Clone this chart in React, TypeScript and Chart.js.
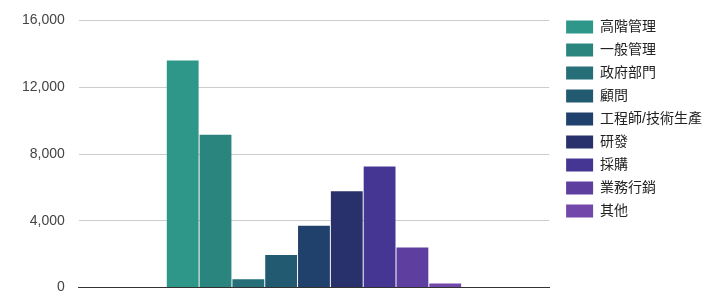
import React, { useEffect, useRef } from "react";
import { Chart, registerables } from "chart.js";

Chart.register(...registerables);

const categories: string[] = ["高階管理", "一般管理", "政府部門", "顧問", "工程師/技術生產", "研發", "採購", "業務行銷", "其他"];
const values: number[] = [13600, 9150, 500, 1950, 3700, 5770, 7250, 2400, 250];
const colors: string[] = ["#2f978a", "#2b857f", "#266f78", "#215a71", "#1f416b", "#28316c", "#463694", "#5e3fa0", "#7249aa"];
const yTicks: number[] = [0, 4000, 8000, 12000, 16000];

const legendShift = {
  id: "legendShift",
  beforeLayout(chart: any) {
    const lg = chart.legend;
    if (lg && !lg._patched) {
      const orig = lg.fit.bind(lg);
      lg.fit = function () {
        orig();
        this.width += 10;
      };
      lg._patched = true;
    }
  },
  afterLayout(chart: any) {
    const lg = chart.legend;
    if (lg) {
      lg.left += 8;
      lg.right += 8;
      lg.top += 9;
    }
  },
};

export default function App() {
  const ref = useRef<HTMLCanvasElement | null>(null);
  useEffect(() => {
    if (!ref.current) return;
    const chart = new Chart(ref.current, {
      type: "bar",
      data: {
        labels: [""],
        datasets: categories.map((c, i) => ({
          label: c,
          data: [values[i]],
          backgroundColor: colors[i],
          borderWidth: 0,
          barPercentage: 0.97,
          categoryPercentage: 0.628,
        })),
      },
      plugins: [legendShift],
      options: {
        animation: false,
        responsive: true,
        maintainAspectRatio: false,
        layout: { padding: { top: 4, bottom: 7, left: 0, right: 0 } },
        plugins: {
          tooltip: { enabled: false },
          legend: {
            position: "right",
            align: "start",
            labels: {
              boxWidth: 27,
              boxHeight: 13,
              padding: 9,
              color: "#222",
              font: { family: "'Liberation Sans', Arial, 'Noto Sans CJK TC', sans-serif", size: 14 },
            },
          },
        },
        scales: {
          x: {
            type: "category",
            ticks: { display: false },
            grid: { display: false, drawTicks: false },
            border: { display: true, color: "#333", width: 1 },
          },
          y: {
            min: 0,
            max: 16000,
            afterBuildTicks: (axis: any) => {
              axis.ticks = yTicks.map((v) => ({ value: v }));
            },
            ticks: {
              padding: 14,
              color: "#444",
              font: { family: "'Liberation Sans', Arial, sans-serif", size: 14 },
              callback: (v: any) => Number(v).toLocaleString("en-US"),
            },
            grid: { color: "#cccccc", drawTicks: false },
            border: { display: false },
          },
        },
      },
    });
    return () => chart.destroy();
  }, []);
  return (
    <div style={{ width: 706, height: 312, marginTop: -10, position: "relative" }}>
      <canvas ref={ref} />
    </div>
  );
}
